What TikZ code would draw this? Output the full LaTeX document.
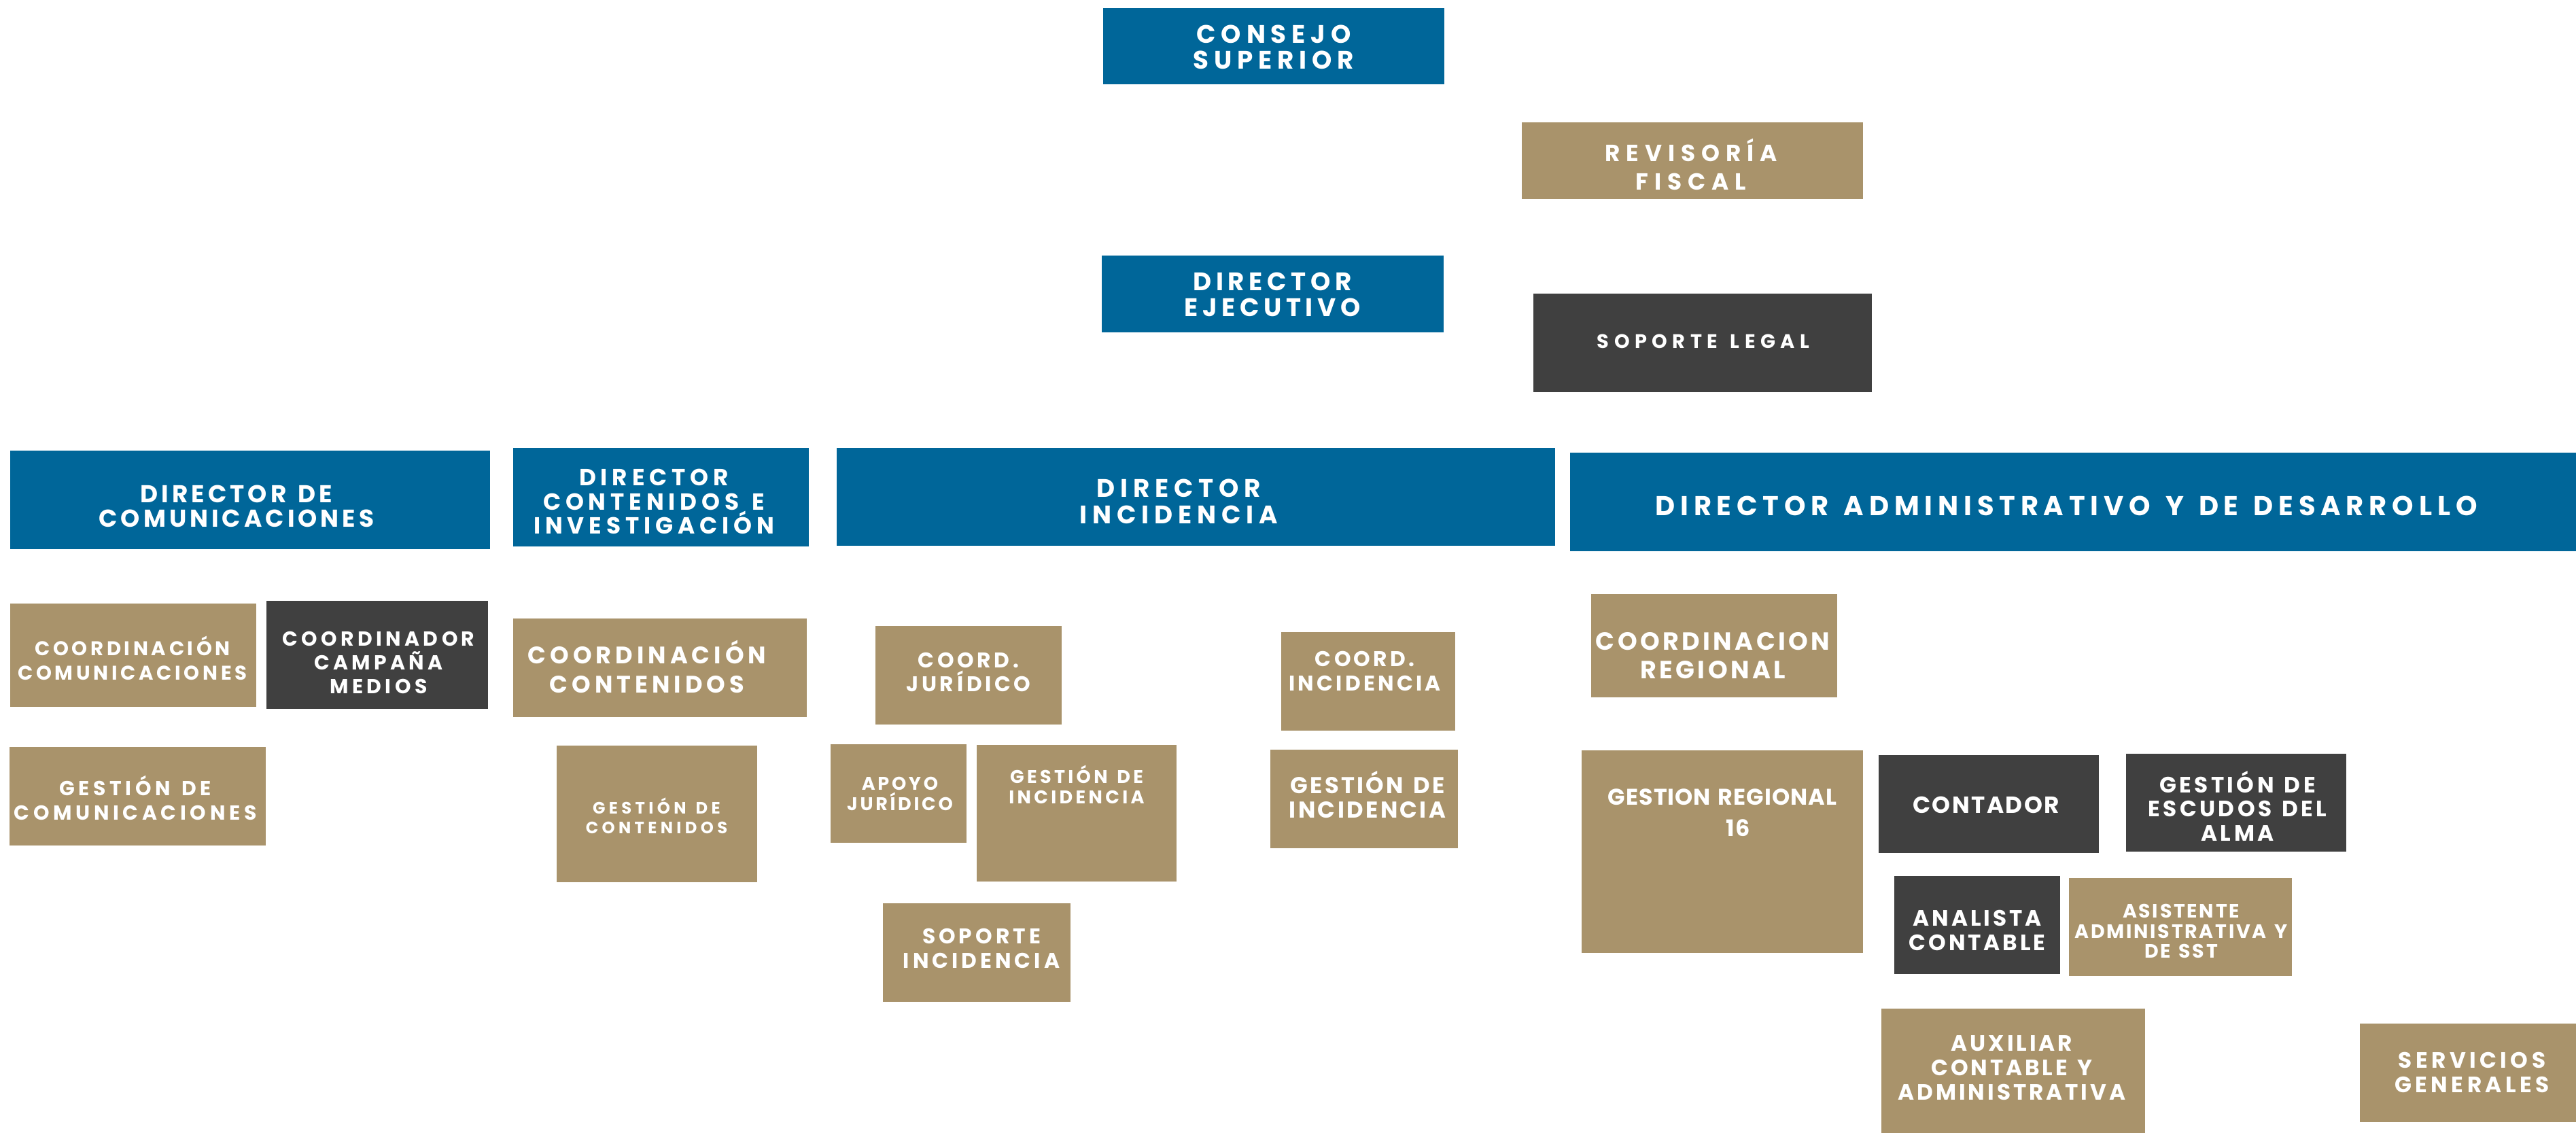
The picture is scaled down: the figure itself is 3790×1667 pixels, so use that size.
\documentclass[tikz,border=0pt]{standalone}
\usepackage{fontspec}
\newfontfamily\pop{Poppins}[WordSpace=1.35]
\definecolor{cblue}{RGB}{0,102,153}
\definecolor{ctan}{RGB}{169,147,107}
\definecolor{cdark}{RGB}{64,64,64}
\newcommand\fsz[3]{\pop\bfseries\addfontfeature{LetterSpace=#3}\fontsize{#1}{#2}\selectfont}
\newcommand\obox[6]{%
  \node[#6, anchor=north west, minimum width={(#4-#2)*0.01cm}, minimum height={(#5-#3)*0.01cm}] (#1) at (#2,#3) {};}
\tikzset{
  boxbase/.style={inner sep=0pt, outer sep=0pt, draw=none},
  bluebox/.style={boxbase, fill=cblue},
  tanbox/.style={boxbase, fill=ctan},
  darkbox/.style={boxbase, fill=cdark},
  lbl/.style={inner sep=0pt, text=white, align=center}
}
\begin{document}
\begin{tikzpicture}[x=0.01cm, y=-0.01cm]
\useasboundingbox (0,0) rectangle (3790,1667);
% top
\obox{cs}{1623}{12}{2125}{124}{bluebox}
\node[lbl, font=\fsz{10.6}{10.8}{21}] (cst) at (1874,69) {CONSEJO\\SUPERIOR};
\obox{rf}{2239}{180}{2741}{293}{tanbox}
\node[lbl, font=\fsz{9.75}{11.9}{26}] (rft) at (2488,242) {REVISORÍA\\FISCAL};
\obox{de}{1621}{376}{2124}{489}{bluebox}
\node[lbl, font=\fsz{10.6}{10.8}{18}] (det) at (1872,433) {DIRECTOR\\EJECUTIVO};
\obox{sl}{2256}{432}{2754}{577}{darkbox}
\node[lbl, font=\fsz{8.2}{9}{26}] (slt) at (2506,502) {SOPORTE LEGAL};
% directors
\obox{dcom}{15}{663}{721}{808}{bluebox}
\node[lbl, font=\fsz{10.2}{10.2}{14}] (dcomt) at (348,745) {DIRECTOR DE\\COMUNICACIONES};
\obox{dcont}{755}{659}{1190}{804}{bluebox}
\node[lbl, font=\fsz{9.75}{10}{20}] (dcontt) at (962,738) {DIRECTOR\\CONTENIDOS E\\INVESTIGACIÓN};
\obox{dinc}{1231}{659}{2288}{803}{bluebox}
\node[lbl, font=\fsz{10.6}{11.1}{21}] (dinct) at (1734,738) {DIRECTOR\\INCIDENCIA};
\obox{dadm}{2310}{666}{3790}{811}{bluebox}
\node[lbl, font=\fsz{11.4}{12}{19.5}] (dadmt) at (3040,744) {DIRECTOR ADMINISTRATIVO Y DE DESARROLLO};
% comunicaciones
\obox{ccom}{15}{888}{377}{1040}{tanbox}
\node[lbl, font=\fsz{8.3}{10.2}{16}] (ccomt) at (195,968) {COORDINACIÓN\\COMUNICACIONES};
\obox{ccam}{392}{884}{718}{1043}{darkbox}
\node[lbl, font=\fsz{8.5}{10}{18}] (ccamt) at (557,975) {COORDINADOR\\CAMPAÑA\\MEDIOS};
\obox{gcom}{14}{1099}{391}{1244}{tanbox}
\node[lbl, font=\fsz{8.5}{10.2}{19}] (gcomt) at (199,1174) {GESTIÓN DE\\COMUNICACIONES};
% contenidos
\obox{ccont}{755}{910}{1187}{1055}{tanbox}
\node[lbl, font=\fsz{10}{12}{17}] (ccontt) at (952,981) {COORDINACIÓN\\CONTENIDOS};
\obox{gcont}{819}{1097}{1114}{1298}{tanbox}
\node[lbl, font=\fsz{6.9}{8.3}{22}] (gcontt) at (966,1200) {GESTIÓN DE\\CONTENIDOS};
% incidencia
\obox{cjur}{1288}{921}{1562}{1066}{tanbox}
\node[lbl, font=\fsz{8.9}{10.2}{15}] (cjurt) at (1425,989) {COORD.\\JURÍDICO};
\obox{cinc}{1885}{930}{2141}{1075}{tanbox}
\node[lbl, font=\fsz{8.9}{10.2}{13.5}] (cinct) at (2008,987) {COORD.\\INCIDENCIA};
\obox{apoyo}{1222}{1095}{1422}{1240}{tanbox}
\node[lbl, font=\fsz{7.7}{8.3}{13.5}] (apoyot) at (1324,1168) {APOYO\\JURÍDICO};
\obox{ginca}{1437}{1096}{1731}{1297}{tanbox}
\node[lbl, font=\fsz{7.7}{8.5}{16}] (gincat) at (1584,1154) {GESTIÓN DE\\INCIDENCIA};
\obox{gincb}{1869}{1103}{2145}{1248}{tanbox}
\node[lbl, font=\fsz{9.6}{10.2}{10}] (gincbt) at (2012,1169) {GESTIÓN DE\\INCIDENCIA};
\obox{sinc}{1299}{1329}{1575}{1474}{tanbox}
\node[lbl, font=\fsz{8.9}{10.2}{16}] (sinct) at (1444,1395) {SOPORTE\\INCIDENCIA};
% administrativo
\obox{creg}{2341}{874}{2703}{1026}{tanbox}
\node[lbl, font=\fsz{10.4}{12}{12}] (cregt) at (2520,965) {COORDINACION\\REGIONAL};
\obox{greg}{2327}{1104}{2741}{1402}{tanbox}
\node[lbl, font=\fsz{9.5}{13.1}{3}] (gregt) at (2534,1196) {GESTION REGIONAL\\\hspace*{1.4em}16};
\obox{cont}{2764}{1111}{3088}{1255}{darkbox}
\node[lbl, font=\fsz{9.75}{10.2}{7}] (contt) at (2922,1184) {CONTADOR};
\obox{esc}{3128}{1109}{3452}{1253}{darkbox}
\node[lbl, font=\fsz{9.3}{10.2}{13.5}] (esct) at (3292,1186) {GESTIÓN DE\\ESCUDOS DEL\\ALMA};
\obox{anal}{2787}{1289}{3031}{1433}{darkbox}
\node[lbl, font=\fsz{9.3}{10.2}{12}] (analt) at (2909,1369) {ANALISTA\\CONTABLE};
\obox{asist}{3044}{1292}{3372}{1436}{tanbox}
\node[lbl, font=\fsz{8.1}{8.5}{9.5}] (asistt) at (3209,1370) {ASISTENTE\\ADMINISTRATIVA Y\\DE SST};
\obox{aux}{2768}{1484}{3156}{1667}{tanbox}
\node[lbl, font=\fsz{9.3}{10.2}{12}] (auxt) at (2960,1571) {AUXILIAR\\CONTABLE Y\\ADMINISTRATIVA};
\obox{serv}{3472}{1506}{3790}{1651}{tanbox}
\node[lbl, font=\fsz{9.3}{10.2}{16.5}] (servt) at (3637,1578) {SERVICIOS\\GENERALES};
\end{tikzpicture}
\end{document}
